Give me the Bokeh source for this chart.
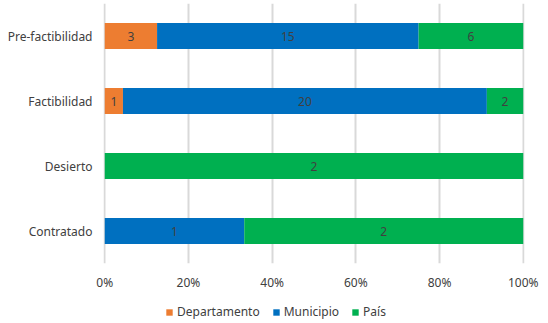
from bokeh.plotting import figure
from bokeh.layouts import column
from bokeh.models import ColumnDataSource, Legend, LegendItem, FixedTicker, NumeralTickFormatter
from bokeh.core.properties import value
from bokeh.embed import file_html
from bokeh.resources import INLINE

categories = ["Contratado", "Desierto", "Factibilidad", "Pre-factibilidad"]
series = ["Departamento", "Municipio", "País"]
departamento = [0, 0, 1, 3]
municipio = [1, 0, 20, 15]
pais = [2, 2, 2, 6]
colors = ["#ED7D31", "#0070C0", "#00B050"]
ticks = [0, 0.2, 0.4, 0.6, 0.8, 1.0]

FONT = "Noto Sans"
TXT = "#404040"

totals = [a + b + c for a, b, c in zip(departamento, municipio, pais)]
frac = {
    "Departamento": [v / t for v, t in zip(departamento, totals)],
    "Municipio": [v / t for v, t in zip(municipio, totals)],
    "País": [v / t for v, t in zip(pais, totals)],
}
raw = {"Departamento": departamento, "Municipio": municipio, "País": pais}
src = ColumnDataSource(dict(cat=categories, **frac))

p = figure(width=548, height=293, y_range=categories, x_range=(-0.003, 1.003),
           output_backend="svg", toolbar_location=None,
           min_border_left=103, min_border_right=24, min_border_top=3,
           min_border_bottom=30)
p.outline_line_color = None
p.background_fill_color = "white"
p.border_fill_color = "white"

renderers = p.hbar_stack(series, y="cat", height=0.4, color=colors, source=src,
                         line_color=None)

# data labels
lx, ly, lt = [], [], []
cum = [0.0] * len(categories)
for s in series:
    for i, c in enumerate(categories):
        f = frac[s][i]
        if raw[s][i] > 0:
            lx.append(cum[i] + f / 2)
            ly.append(c)
            lt.append(str(raw[s][i]))
        cum[i] += f
p.text(x=lx, y=ly, text=lt, text_align="center", text_baseline="middle",
       text_font=value(FONT), text_font_size="12px", text_color=TXT)

p.xaxis.ticker = FixedTicker(ticks=ticks)
p.xaxis.formatter = NumeralTickFormatter(format="0%")
for ax in (p.xaxis, p.yaxis):
    ax.axis_line_color = None
    ax.major_tick_line_color = None
    ax.minor_tick_line_color = None
    ax.major_tick_out = 0
    ax.major_tick_in = 0
    ax.major_label_text_font = FONT
    ax.major_label_text_font_size = "12px"
    ax.major_label_text_color = TXT
p.yaxis.major_label_standoff = 11
p.xaxis.major_label_standoff = 10
p.xgrid.grid_line_color = "#D9D9D9"
p.xgrid.grid_line_width = 2
p.xgrid.ticker = FixedTicker(ticks=ticks)
p.ygrid.grid_line_color = None

# legend in a small strip below (frame aligned with the chart's frame)
lf = figure(width=548, height=30, output_backend="svg", toolbar_location=None,
            x_range=(0, 1), y_range=(0, 1),
            min_border_left=0, min_border_right=0, min_border_top=0, min_border_bottom=0)
lf.axis.visible = False
lf.grid.visible = False
lf.outline_line_color = None
dummies = [lf.quad(left=[-10], right=[-9], bottom=[-10], top=[-9], color=c, line_color=None)
           for c in colors]
legend = Legend(items=[LegendItem(label=s, renderers=[r]) for s, r in zip(series, dummies)],
                orientation="horizontal", location=(62, 3),
                label_text_font=FONT, label_text_font_size="12px",
                label_text_color=TXT, glyph_width=8, glyph_height=8,
                spacing=12, label_standoff=4, padding=0, margin=0,
                border_line_color=None, background_fill_alpha=0)
lf.add_layout(legend, "center")

layout = column(p, lf, spacing=0)
open("out.html", "w").write(file_html(layout, INLINE))
